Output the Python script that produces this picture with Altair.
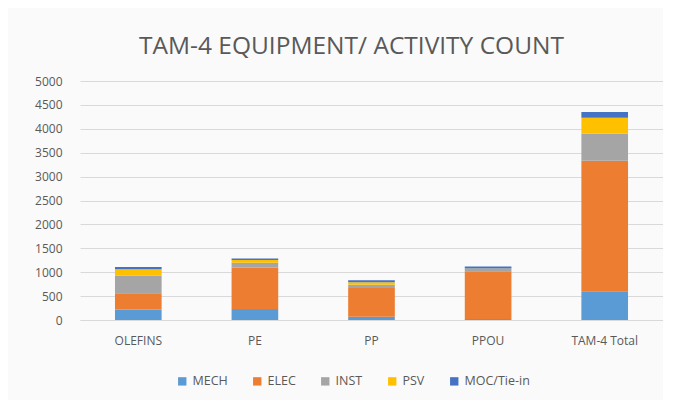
import altair as alt
import pandas as pd

categories = ["OLEFINS", "PE", "PP", "PPOU", "TAM-4 Total"]
series = ["MECH", "ELEC", "INST", "PSV", "MOC/Tie-in"]
colors = ["#5B9BD5", "#ED7D31", "#A5A5A5", "#FFC000", "#4472C4"]

mech = [220, 230, 70, 20, 600]
elec = [340, 870, 600, 1000, 2730]
inst = [370, 100, 70, 50, 570]
psv = [130, 55, 50, 10, 330]
moc = [50, 30, 40, 40, 120]

values = [mech, elec, inst, psv, moc]
rows = []
for si, (s, vals) in enumerate(zip(series, values)):
    for c, v in zip(categories, vals):
        rows.append({"category": c, "series": s, "value": v, "order": si})
df = pd.DataFrame(rows)

chart = alt.Chart(df).mark_bar().encode(
    x=alt.X("category:N", sort=categories, title=None,
            scale=alt.Scale(paddingInner=0.6, paddingOuter=0.3),
            axis=alt.Axis(labelAngle=0, ticks=False, domainColor="#D9D9D9",
                          labelColor="#595959", labelFontSize=12, labelPadding=15,
                          labelFont="Open Sans")),
    y=alt.Y("value:Q", stack="zero", title=None,
            scale=alt.Scale(domain=[0, 5000], nice=False),
            axis=alt.Axis(values=list(range(0, 5001, 500)), format="d", domain=False,
                          ticks=False, gridColor="#D9D9D9", labelColor="#595959",
                          labelFontSize=12, labelPadding=18, labelFont="Open Sans")),
    color=alt.Color("series:N", sort=series,
                    scale=alt.Scale(domain=series, range=colors),
                    legend=alt.Legend(title=None, orient="none", direction="horizontal",
                                      legendX=96, legendY=294, symbolType="square",
                                      symbolSize=70, symbolStrokeWidth=0,
                                      labelFontSize=12.5, labelColor="#595959",
                                      labelFont="Open Sans", columnPadding=23,
                                      labelOffset=4)),
    order=alt.Order("order:Q", sort="ascending"),
).properties(
    width=583, height=239,
    title=alt.TitleParams("TAM-4 EQUIPMENT/ ACTIVITY COUNT", fontSize=24.5,
                          font="Open Sans",
                          fontWeight="normal", color="#595959", offset=16, dx=-20),
    autosize=alt.AutoSizeParams(type="none"),
    padding={"left": 72, "top": 73, "right": 0, "bottom": 80},
    background="#FAFAFA",
).configure_view(stroke=None)

chart.save("out.html", embed_options={"renderer": "svg", "actions": False})
